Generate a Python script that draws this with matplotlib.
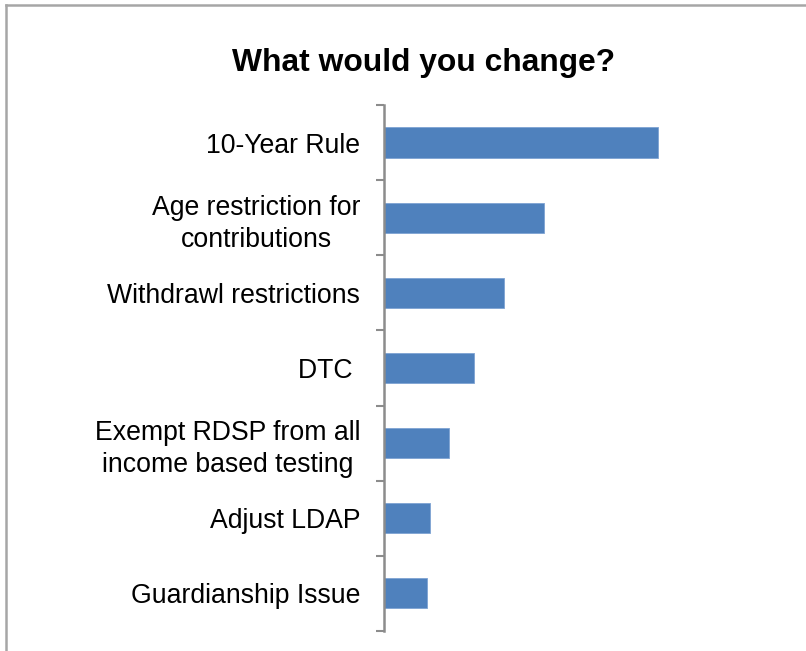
import matplotlib
matplotlib.use('Agg')
import matplotlib.pyplot as plt
from matplotlib.lines import Line2D

# ===== DANE =====
categories = ["10-Year Rule", "Age restriction for\ncontributions", "Withdrawl restrictions",
              "DTC ", "Exempt RDSP from all\nincome based testing", "Adjust LDAP", "Guardianship Issue"]
values = [66.2, 38.6, 29.1, 21.7, 15.8, 11.1, 10.4]

plt.rcParams['font.family'] = ['Liberation Sans', 'DejaVu Sans']

fig = plt.figure(figsize=(8.06, 6.51), dpi=100)
ax = fig.add_axes([0.4764, 0.0307, 0.5137, 0.8081])

# bars top to bottom
pos = list(range(len(categories)))[::-1]
ax.barh(pos, values, height=0.4, color='#4f81bd', edgecolor='#7ea3d3', linewidth=0.6)

ax.set_xlim(0, 100)
ax.set_ylim(-0.5, len(categories) - 0.5)

# category boundaries as tick marks, labels in the middle
ax.set_yticks([p - 0.5 for p in range(len(categories) + 1)])
ax.set_yticklabels([])
ax.set_yticks(pos, minor=True)
ax.set_yticklabels(categories, minor=True, fontsize=19.2, ha='right',
                   multialignment='center', linespacing=1.3)
ax.tick_params(axis='y', which='major', length=5.5, width=1.5, color='#8c8c8c')
ax.tick_params(axis='y', which='minor', length=0, pad=17)

ax.set_xticks([])
for s in ['top', 'right', 'bottom']:
    ax.spines[s].set_visible(False)
ax.spines['left'].set_color('#8c8c8c')
ax.spines['left'].set_linewidth(1.8)

fig.text(0.525, 0.903, "What would you change?", fontsize=22.9, fontweight='bold',
         ha='center', va='center')

# ramka dookola
fig.add_artist(Line2D([6 / 806, 6 / 806], [0, 1 - 5 / 651], transform=fig.transFigure,
                      color='#a6a6a6', linewidth=1.8))
fig.add_artist(Line2D([6 / 806, 805 / 806], [1 - 5 / 651, 1 - 5 / 651], transform=fig.transFigure,
                      color='#a6a6a6', linewidth=1.8))

plt.savefig('out.png', dpi=100)
